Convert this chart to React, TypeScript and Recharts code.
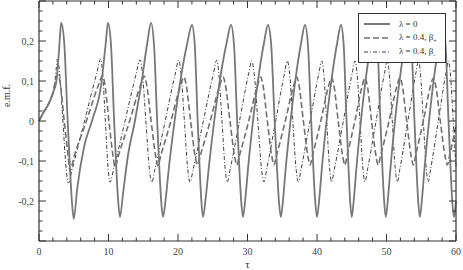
import React from 'react';
import { LineChart, Line, XAxis, YAxis, Legend } from 'recharts';

// tick positions (minor + major)
const xTicks = [0, 2, 4, 6, 8, 10, 12, 14, 16, 18, 20, 22, 24, 26, 28, 30, 32, 34, 36, 38, 40, 42, 44, 46, 48, 50, 52, 54, 56, 58, 60];
const yTicks = [
  -0.3, -0.275, -0.25, -0.225, -0.2, -0.175, -0.15, -0.125, -0.1, -0.075, -0.05, -0.025, 0,
  0.025, 0.05, 0.075, 0.1, 0.125, 0.15, 0.175, 0.2, 0.225, 0.25, 0.275, 0.3,
];

// λ = 0
const lambda0 = [
  [0, 0], [0.6, 0.02], [1.3, 0.04], [2.0, 0.07], [2.5, 0.1], [2.7, 0.135], [2.9, 0.18], [3.05, 0.22], [3.2, 0.245],
  [3.65, 0.19], [4.1, 0.01], [4.46, -0.12], [4.73, -0.2], [5.0, -0.245],
  [5.49, -0.17], [6.48, -0.065], [7.71, 0.005], [8.94, 0.09], [9.58, 0.19], [9.93, 0.245],
  [10.36, 0.19], [10.79, 0.01], [11.13, -0.12], [11.39, -0.2], [11.65, -0.24],
  [12.1, -0.18], [12.77, -0.09], [13.8, 0.0], [14.78, 0.1], [15.58, 0.195], [16.12, 0.245],
  [16.55, 0.19], [16.98, 0.01], [17.32, -0.12], [17.58, -0.2], [17.84, -0.24],
  [18.26, -0.19], [18.67, -0.12], [19.51, 0.0], [20.43, 0.11], [21.34, 0.195], [22.01, 0.24],
  [22.41, 0.19], [22.81, 0.01], [23.12, -0.12], [23.36, -0.2], [23.6, -0.24],
  [24.0, -0.19], [24.41, -0.12], [25.21, 0.0], [26.1, 0.11], [26.99, 0.195], [27.63, 0.24],
  [28.06, 0.19], [28.49, 0.01], [28.83, -0.12], [29.09, -0.2], [29.35, -0.24],
  [29.71, -0.19], [30.07, -0.12], [30.79, 0.0], [31.58, 0.11], [32.37, 0.195], [32.95, 0.24],
  [33.41, 0.19], [33.88, 0.01], [34.25, -0.12], [34.52, -0.2], [34.8, -0.24],
  [35.15, -0.19], [35.49, -0.12], [36.19, 0.0], [36.95, 0.11], [37.71, 0.195], [38.27, 0.24],
  [38.7, 0.19], [39.14, 0.01], [39.48, -0.12], [39.74, -0.2], [40.0, -0.24],
  [40.35, -0.19], [40.69, -0.12], [41.38, 0.0], [42.14, 0.11], [42.9, 0.195], [43.45, 0.24],
  [43.84, 0.19], [44.23, 0.01], [44.54, -0.12], [44.77, -0.2], [45.0, -0.24],
  [45.33, -0.19], [45.66, -0.12], [46.32, 0.0], [47.05, 0.11], [47.77, 0.195], [48.3, 0.24],
  [48.7, 0.19], [49.1, 0.01], [49.42, -0.12], [49.66, -0.2], [49.9, -0.24],
  [50.23, -0.19], [50.56, -0.12], [51.22, 0.0], [51.95, 0.11], [52.67, 0.195], [53.2, 0.24],
  [53.6, 0.19], [54.0, 0.01], [54.32, -0.12], [54.56, -0.2], [54.8, -0.24],
  [55.13, -0.19], [55.46, -0.12], [56.12, 0.0], [56.85, 0.11], [57.57, 0.195], [58.1, 0.24],
  [58.5, 0.19], [58.9, 0.01], [59.22, -0.12], [59.46, -0.2], [59.7, -0.24],
  [60, -0.2],
];

// λ = 0.4, β+
const betaPlus = [
  [0, 0], [0.6, 0.02], [1.3, 0.04], [2.0, 0.07], [2.3, 0.095], [2.55, 0.11], [2.8, 0.115],
  [3.05, 0.095], [3.63, 0.0], [4.21, -0.09], [4.46, -0.125],
  [5.03, -0.09], [6.82, 0.0], [8.46, 0.085], [9.17, 0.113],
  [9.44, 0.095], [10.06, 0.0], [10.67, -0.09], [10.94, -0.115],
  [11.45, -0.085], [13.04, 0.0], [14.52, 0.085], [15.15, 0.112],
  [15.44, 0.095], [16.13, 0.0], [16.81, -0.09], [17.1, -0.112],
  [17.55, -0.085], [18.98, 0.0], [20.3, 0.085], [20.86, 0.11],
  [21.15, 0.093], [21.82, 0.0], [22.49, -0.09], [22.78, -0.11],
  [23.23, -0.085], [24.64, 0.0], [25.94, 0.085], [26.5, 0.11],
  [26.79, 0.093], [27.48, 0.0], [28.16, -0.09], [28.45, -0.11],
  [28.86, -0.085], [30.18, 0.0], [31.38, 0.085], [31.9, 0.11],
  [32.19, 0.093], [32.85, 0.0], [33.52, -0.09], [33.8, -0.11],
  [34.19, -0.085], [35.44, 0.0], [36.59, 0.085], [37.08, 0.11],
  [37.37, 0.093], [38.04, 0.0], [38.71, -0.09], [39.0, -0.11],
  [39.37, -0.085], [40.55, 0.0], [41.64, 0.085], [42.1, 0.108],
  [42.39, 0.093], [43.05, 0.0], [43.72, -0.09], [44.0, -0.11],
  [44.35, -0.085], [45.45, 0.0], [46.47, 0.085], [46.9, 0.108],
  [47.19, 0.093], [47.85, 0.0], [48.52, -0.09], [48.8, -0.11],
  [49.18, -0.085], [50.37, 0.0], [51.47, 0.085], [51.94, 0.108],
  [52.23, 0.093], [52.9, 0.0], [53.57, -0.09], [53.86, -0.11],
  [54.2, -0.085], [55.3, 0.0], [56.3, 0.085], [56.73, 0.107],
  [57.03, 0.093], [57.74, 0.0], [58.45, -0.09], [58.75, -0.11],
  [59.1, -0.085], [60, -0.01],
];

// λ = 0.4, β-
const betaMinus = [
  [0, 0], [0.6, 0.02], [1.3, 0.04], [2.0, 0.07], [2.3, 0.1], [2.5, 0.135], [2.65, 0.155],
  [2.96, 0.12], [3.44, 0.0], [3.91, -0.12], [4.22, -0.155],
  [4.78, -0.12], [6.55, 0.0], [8.32, 0.12], [8.88, 0.155],
  [9.15, 0.12], [9.55, 0.0], [9.95, -0.12], [10.22, -0.153],
  [10.74, -0.12], [12.38, 0.0], [14.01, 0.12], [14.53, 0.153],
  [14.87, 0.12], [15.38, 0.0], [15.88, -0.12], [16.22, -0.153],
  [16.69, -0.12], [18.16, 0.0], [19.63, 0.12], [20.1, 0.152],
  [20.43, 0.12], [20.92, 0.0], [21.4, -0.12], [21.73, -0.153],
  [22.19, -0.12], [23.65, 0.0], [25.11, 0.12], [25.57, 0.152],
  [25.87, 0.12], [26.33, 0.0], [26.79, -0.12], [27.09, -0.153],
  [27.51, -0.12], [28.85, 0.0], [30.18, 0.12], [30.6, 0.15],
  [30.95, 0.12], [31.49, 0.0], [32.02, -0.12], [32.37, -0.152],
  [32.77, -0.12], [34.05, 0.0], [35.33, 0.12], [35.73, 0.15],
  [36.05, 0.12], [36.52, 0.0], [36.99, -0.12], [37.31, -0.152],
  [37.71, -0.12], [39.0, 0.0], [40.28, 0.12], [40.68, 0.15],
  [40.96, 0.12], [41.39, 0.0], [41.82, -0.12], [42.1, -0.152],
  [42.5, -0.12], [43.79, 0.0], [45.07, 0.12], [45.47, 0.15],
  [45.76, 0.12], [46.19, 0.0], [46.61, -0.12], [46.9, -0.152],
  [47.28, -0.12], [48.5, 0.0], [49.72, 0.12], [50.1, 0.15],
  [50.39, 0.12], [50.83, 0.0], [51.26, -0.12], [51.55, -0.152],
  [51.92, -0.12], [53.08, 0.0], [54.23, 0.12], [54.6, 0.15],
  [54.88, 0.12], [55.3, 0.0], [55.72, -0.12], [56.0, -0.152],
  [56.35, -0.12], [57.45, 0.0], [58.55, 0.12], [58.9, 0.15],
  [59.18, 0.12], [59.6, 0.0], [60, -0.115],
];

const toPts = (arr: number[][]) => arr.map(([x, y]) => ({ x, y }));

const FONT = '"Liberation Serif", "DejaVu Serif", serif';
const AXIS = '#333';

const isMajorX = (v: number) => v % 10 === 0;
const isMajorY = (v: number) => Math.abs(v * 10 - Math.round(v * 10)) < 1e-6;
const fmtY = (v: number) => (Math.abs(v) < 1e-9 ? '0' : v.toFixed(1).replace('.', ','));

const BottomTick = ({ x, y, payload }: any) => {
  const major = isMajorX(payload.value);
  return (
    <g>
      <line x1={x} y1={y} x2={x} y2={y - (major ? 7 : 3.5)} stroke={AXIS} strokeWidth={1} />
      {major && (
        <text x={x} y={y + 14} textAnchor="middle" fontSize={10} fontFamily={FONT} fill="#444">
          {payload.value}
        </text>
      )}
    </g>
  );
};

const TopTick = ({ x, y, payload }: any) => {
  const major = isMajorX(payload.value);
  return <line x1={x} y1={y} x2={x} y2={y + (major ? 7 : 3.5)} stroke={AXIS} strokeWidth={1} />;
};

const LeftTick = ({ x, y, payload }: any) => {
  const major = isMajorY(payload.value);
  return (
    <g>
      <line x1={x} y1={y} x2={x + (major ? 7 : 3.5)} y2={y} stroke={AXIS} strokeWidth={1} />
      {major && Math.abs(payload.value) < 0.25 && (
        <text x={x - 5} y={y + 3.5} textAnchor="end" fontSize={10} fontFamily={FONT} fill="#444">
          {fmtY(payload.value)}
        </text>
      )}
    </g>
  );
};

const RightTick = ({ x, y, payload }: any) => {
  const major = isMajorY(payload.value);
  return <line x1={x} y1={y} x2={x - (major ? 7 : 3.5)} y2={y} stroke={AXIS} strokeWidth={1} />;
};

const legendRows = [
  { label: 'λ = 0', sub: '', dash: undefined, color: '#777', width: 2 },
  { label: 'λ = 0.4, β', sub: '+', dash: '6 3', color: '#707070', width: 1.6 },
  { label: 'λ = 0.4, β', sub: '-', dash: '4 2 1 2', color: '#404040', width: 1 },
];

const LegendBox = () => (
  <div
    style={{
      width: 88,
      height: 50,
      border: '1px solid #333',
      background: '#fff',
      boxSizing: 'border-box',
      fontFamily: FONT,
      fontSize: 9,
      color: '#333',
      paddingTop: 3,
    }}
  >
    {legendRows.map((r) => (
      <div key={r.label + r.sub} style={{ display: 'flex', alignItems: 'center', height: 14 }}>
        <svg width={40} height={8} style={{ flex: 'none' }}>
          <line x1={5} y1={4} x2={31} y2={4} stroke={r.color} strokeWidth={r.width} strokeDasharray={r.dash} />
        </svg>
        <span style={{ whiteSpace: 'nowrap' }}>
          {r.label}
          {r.sub && <sub style={{ fontSize: 6 }}>{r.sub}</sub>}
        </span>
      </div>
    ))}
  </div>
);

export default function App() {
  return (
    <div style={{ position: 'absolute', left: 0, top: 0, background: '#fff' }}>
      <LineChart width={463} height={270} margin={{ top: -9, right: -3, bottom: 0, left: 0 }}>
        <XAxis
          dataKey="x"
          type="number"
          domain={[0, 60]}
          ticks={xTicks}
          interval={0}
          tickSize={0}
          tickMargin={0}
          tickLine={false}
          tick={<BottomTick />}
          axisLine={{ stroke: AXIS, strokeWidth: 1.2 }}
          height={29}
          label={{ value: 'τ', position: 'insideBottom', offset: 2, fontSize: 11, fontFamily: FONT, fill: '#333' }}
        />
        <XAxis
          xAxisId="top"
          orientation="top"
          dataKey="x"
          type="number"
          domain={[0, 60]}
          ticks={xTicks}
          interval={0}
          tickSize={0}
          tickMargin={0}
          tickLine={false}
          tick={<TopTick />}
          axisLine={{ stroke: AXIS, strokeWidth: 1.2 }}
          height={10}
        />
        <YAxis
          type="number"
          domain={[-0.3, 0.3]}
          ticks={yTicks}
          interval={0}
          tickSize={0}
          tickMargin={0}
          tickLine={false}
          tick={<LeftTick />}
          axisLine={{ stroke: AXIS, strokeWidth: 1.2 }}
          width={39}
          label={{ value: 'e.m.f.', angle: -90, position: 'insideLeft', offset: 6, dy: -14, fontSize: 10, fontFamily: FONT, fill: '#333' }}
        />
        <YAxis
          yAxisId="right"
          orientation="right"
          type="number"
          domain={[-0.3, 0.3]}
          ticks={yTicks}
          interval={0}
          tickSize={0}
          tickMargin={0}
          tickLine={false}
          tick={<RightTick />}
          axisLine={{ stroke: AXIS, strokeWidth: 1.2 }}
          width={10}
        />
        <Legend
          layout="horizontal"
          verticalAlign="middle"
          align="center"
          content={<LegendBox />}
          wrapperStyle={{ position: 'absolute', left: 358, top: 13, width: 88, height: 50 }}
        />
        {/* invisible series so the mirrored top/right frame axes get drawn */}
        <Line
          data={toPts(lambda0)}
          xAxisId="top"
          yAxisId="right"
          dataKey="y"
          stroke="transparent"
          dot={false}
          activeDot={false}
          legendType="none"
          isAnimationActive={false}
        />
        <Line
          data={toPts(betaMinus)}
          dataKey="y"
          type="monotone"
          stroke="#404040"
          strokeWidth={1}
          strokeDasharray="4 2 1 2"
          dot={false}
          isAnimationActive={false}
        />
        <Line
          data={toPts(betaPlus)}
          dataKey="y"
          type="monotone"
          stroke="#707070"
          strokeWidth={1.6}
          strokeDasharray="6 3"
          dot={false}
          isAnimationActive={false}
        />
        <Line
          data={toPts(lambda0)}
          dataKey="y"
          type="monotone"
          stroke="#777"
          strokeWidth={1.8}
          dot={false}
          isAnimationActive={false}
        />
      </LineChart>
    </div>
  );
}
